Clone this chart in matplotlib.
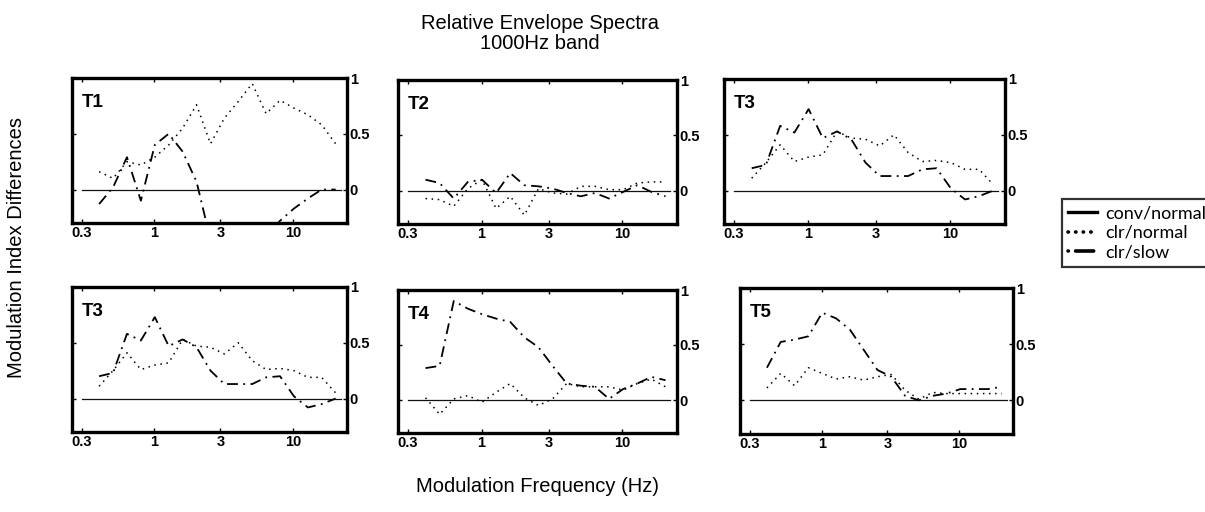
import matplotlib.pyplot as plt
from matplotlib.lines import Line2D
from matplotlib.ticker import FixedLocator, NullLocator

plt.rcParams["font.family"] = ["Liberation Sans", "DejaVu Sans"]

# modulation frequencies (Hz), 1/3-octave steps
freq = [0.4, 0.504, 0.635, 0.8, 1.008, 1.27, 1.6, 2.016, 2.54,
        3.2, 4.03, 5.08, 6.4, 8.06, 10.16, 12.8, 16.1, 20.3]
ref_freq = [0.3, 22.0]
conv_normal = [0.0, 0.0]

panel_names = ["T1", "T2", "T3", "T3", "T4", "T5"]

clr_normal = {
    "T1": [0.16, 0.10, 0.25, 0.22, 0.29, 0.40, 0.55, 0.76, 0.41,
           0.64, 0.79, 0.95, 0.68, 0.80, 0.73, 0.67, 0.58, 0.41],
    "T2": [-0.07, -0.08, -0.14, 0.02, 0.10, -0.16, -0.05, -0.22, 0.02,
           -0.02, -0.03, 0.04, 0.04, 0.01, 0.01, 0.07, 0.08, 0.08],
    "T3": [0.11, 0.25, 0.41, 0.26, 0.30, 0.32, 0.53, 0.47, 0.46,
           0.40, 0.50, 0.34, 0.26, 0.27, 0.25, 0.19, 0.19, 0.05],
    "T4": [0.02, -0.13, 0.01, 0.04, -0.02, 0.07, 0.15, 0.02, -0.05,
           0.01, 0.15, 0.12, 0.12, 0.12, 0.09, 0.15, 0.19, 0.12],
    "T5": [0.11, 0.24, 0.13, 0.29, 0.24, 0.19, 0.21, 0.18, 0.21,
           0.23, 0.09, 0.01, 0.07, 0.06, 0.06, 0.06, 0.06, 0.06],
}

clr_slow = {
    "T1": [-0.13, 0.02, 0.29, -0.10, 0.40, 0.50, 0.34, 0.07, -0.45,
           -0.60, -0.62, -0.55, -0.42, -0.28, -0.17, -0.08, 0.0, 0.0],
    "T2": [0.10, 0.07, -0.07, 0.08, 0.10, -0.02, 0.16, 0.05, 0.04,
           0.02, -0.02, -0.05, -0.02, -0.07, -0.01, 0.05, -0.01, -0.05],
    "T3": [0.20, 0.23, 0.58, 0.52, 0.73, 0.47, 0.53, 0.46, 0.25,
           0.13, 0.13, 0.13, 0.19, 0.20, 0.02, -0.08, -0.05, 0.0],
    "T4": [0.29, 0.31, 0.90, 0.83, 0.78, 0.74, 0.71, 0.57, 0.48,
           0.31, 0.15, 0.13, 0.12, 0.01, 0.10, 0.15, 0.21, 0.18],
    "T5": [0.29, 0.52, 0.54, 0.57, 0.78, 0.73, 0.63, 0.45, 0.27,
           0.21, 0.04, 0.0, 0.04, 0.06, 0.10, 0.10, 0.10, 0.12],
}

x_ticks = [0.3, 1, 3, 10]
x_ticklabels = ["0.3", "1", "3", "10"]
y_ticks = [0, 0.5, 1]
y_ticklabels = ["0", "0.5", "1"]

W, H = 1205, 512
# axes boxes in pixels: left, right, top, bottom
boxes = [(72, 347, 78, 223), (398, 677, 80, 224), (724, 1005, 79, 224),
         (72, 347, 287, 432), (398, 677, 290, 433), (740, 1013, 288, 434)]

dot_style = (0, (1, 3))
dashdot_style = (0, (6, 3, 1, 3))

fig = plt.figure(figsize=(W / 100, H / 100), dpi=100)

for name, (l, r, t, b) in zip(panel_names, boxes):
    ax = fig.add_axes([l / W, 1 - b / H, (r - l) / W, (b - t) / H])
    ax.plot(ref_freq, conv_normal, color="#111111", lw=0.9)
    ax.plot(freq, clr_normal[name], color="black", lw=1.1, ls=dot_style)
    ax.plot(freq, clr_slow[name], color="black", lw=1.3, ls=dashdot_style)
    ax.set_xscale("log")
    ax.set_xlim(0.255, 24.5)
    ax.set_ylim(-0.3, 1.0)
    ax.xaxis.set_major_locator(FixedLocator(x_ticks))
    ax.xaxis.set_minor_locator(NullLocator())
    ax.set_xticklabels(x_ticklabels)
    ax.set_yticks(y_ticks)
    ax.set_yticklabels(y_ticklabels)
    ax.yaxis.tick_right()
    ax.tick_params(axis="both", direction="in", length=3, width=1,
                   top=True, left=True, right=True, bottom=True,
                   labelsize=10.5)
    ax.tick_params(axis="x", pad=2)
    ax.tick_params(axis="y", pad=2)
    for lab in ax.get_xticklabels() + ax.get_yticklabels():
        lab.set_fontweight("bold")
    for sp in ax.spines.values():
        sp.set_linewidth(2.4)
    ax.text(0.035, 0.80, name, transform=ax.transAxes, fontsize=13.5,
            fontweight="bold")

fig.text(0.448, 1 - 14 / H, "Relative Envelope Spectra\n1000Hz band",
         ha="center", va="top", fontsize=14.5, linespacing=1.05)
fig.text(17 / W, 1 - 247 / H, "Modulation Index Differences",
         rotation=90, ha="center", va="center", fontsize=14.5)
fig.text(537 / W, 1 - 487 / H, "Modulation Frequency (Hz)",
         ha="center", va="center", fontsize=14.5)

handles = [
    Line2D([], [], color="black", lw=2.4),
    Line2D([], [], color="black", lw=2.6, ls=(0, (0.1, 2.0)),
           dash_capstyle="round"),
    Line2D([], [], color="black", lw=2.6, ls=(0, (0.1, 2.0, 5, 2.0)),
           dash_capstyle="round"),
]
leg = fig.legend(handles, ["conv/normal", "clr/normal", "clr/slow"],
                 loc="upper left", bbox_to_anchor=(1062 / W, 1 - 199 / H),
                 borderaxespad=0, fancybox=False, frameon=True,
                 handlelength=1.6, handletextpad=0.45, labelspacing=0.2,
                 borderpad=0.35,
                 prop={"family": ["Lato", "DejaVu Sans"], "size": 13})
leg.get_frame().set_edgecolor("black")
leg.get_frame().set_linewidth(1.6)

fig.savefig("out.png", dpi=100)
